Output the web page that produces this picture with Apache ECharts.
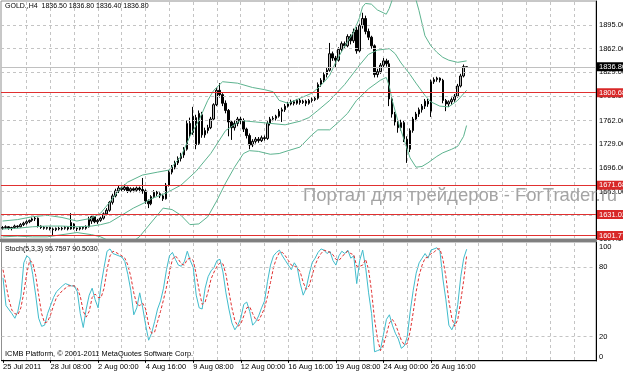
<!DOCTYPE html>
<html><head><meta charset="utf-8">
<script src="https://cdn.jsdelivr.net/npm/echarts@6/dist/echarts.min.js"></script>
<style>html,body{margin:0;padding:0;background:#fff}#c{width:623px;height:373px}</style>
</head><body><div id="c"></div>
<script>
// ---- DATA ----
// candles: [open, close, low, high], one H4 bar each, starting 25 Jul 2011
const ohlc = [
[1612,1613,1610,1615],[1613,1614,1611,1616],[1614,1612,1610,1615],[1612,1613,1609,1614],[1613,1615,1611,1617],
[1615,1614,1612,1616],[1614,1617,1613,1619],[1617,1619,1615,1621],[1619,1621,1617,1623],[1621,1623,1619,1624],
[1623,1625,1621,1627],[1625,1626,1622,1628],[1626,1615,1613,1627],[1615,1613,1611,1616],[1613,1612,1610,1615],
[1612,1613,1610,1614],[1613,1611,1609,1614],[1611,1610,1602,1613],[1610,1612,1608,1613],[1612,1611,1609,1614],
[1611,1612,1609,1614],[1612,1613,1610,1615],[1613,1611,1609,1614],[1611,1620,1610,1633],[1618,1612,1610,1619],
[1612,1611,1608,1613],[1611,1613,1609,1614],[1613,1612,1610,1615],[1612,1614,1610,1616],[1614,1624,1613,1628],
[1622,1628,1618,1631],[1628,1621,1619,1629],[1621,1623,1618,1625],[1623,1626,1621,1628],[1626,1632,1624,1634],
[1632,1637,1630,1640],[1637,1648,1635,1650],[1648,1657,1645,1660],[1657,1664,1655,1667],[1664,1668,1661,1671],
[1668,1666,1663,1670],[1666,1669,1664,1673],[1669,1664,1661,1670],[1664,1667,1662,1669],[1667,1665,1662,1669],
[1665,1668,1663,1670],[1668,1666,1662,1670],[1666,1664,1660,1682],[1664,1650,1646,1666],[1650,1646,1640,1652],
[1646,1656,1644,1658],[1656,1662,1654,1665],[1662,1660,1657,1664],[1660,1657,1654,1662],[1657,1653,1650,1660],
[1653,1672,1652,1675],[1672,1690,1670,1693],[1690,1697,1687,1700],[1697,1703,1694,1706],[1703,1709,1700,1712],
[1709,1714,1705,1717],[1714,1722,1710,1725],[1722,1758,1720,1762],[1758,1742,1738,1766],[1745,1768,1742,1781],
[1766,1728,1722,1770],[1730,1772,1728,1776],[1770,1742,1738,1774],[1742,1748,1738,1752],[1748,1752,1744,1756],
[1752,1764,1750,1767],[1764,1784,1762,1786],[1784,1804,1782,1807],[1804,1798,1794,1814],[1798,1786,1782,1800],
[1786,1776,1772,1790],[1776,1760,1740,1778],[1760,1752,1735,1762],[1752,1758,1748,1762],[1758,1764,1754,1767],
[1764,1762,1757,1767],[1762,1750,1746,1765],[1750,1741,1737,1752],[1741,1728,1722,1744],[1728,1733,1725,1736],
[1733,1736,1730,1739],[1736,1734,1731,1739],[1734,1738,1732,1741],[1738,1737,1734,1741],[1737,1758,1735,1761],
[1758,1764,1755,1767],[1764,1765,1761,1768],[1765,1768,1762,1770],[1768,1775,1766,1778],[1775,1777,1760,1780],
[1777,1782,1774,1785],[1782,1785,1780,1788],[1785,1788,1783,1791],[1788,1786,1783,1790],[1786,1790,1784,1792],
[1790,1787,1784,1792],[1787,1789,1785,1791],[1789,1786,1782,1791],[1786,1790,1784,1792],[1790,1791,1787,1794],
[1791,1793,1789,1796],[1793,1812,1791,1815],[1812,1818,1809,1821],[1818,1826,1815,1829],[1826,1832,1822,1835],
[1832,1855,1830,1870],[1855,1849,1845,1858],[1849,1846,1836,1852],[1846,1861,1844,1864],[1861,1869,1858,1872],
[1869,1866,1862,1872],[1866,1879,1864,1882],[1879,1873,1868,1882],[1873,1885,1870,1890],[1888,1859,1855,1892],
[1859,1894,1857,1897],[1894,1904,1890,1912],[1904,1886,1882,1908],[1886,1878,1874,1890],[1878,1866,1862,1880],
[1866,1826,1822,1868],[1826,1830,1822,1834],[1830,1839,1827,1842],[1839,1845,1836,1849],[1845,1841,1837,1848],
[1841,1792,1782,1846],[1792,1771,1766,1795],[1771,1760,1755,1774],[1760,1752,1745,1764],[1752,1759,1748,1763],
[1759,1736,1732,1762],[1736,1722,1703,1740],[1722,1748,1718,1751],[1748,1764,1745,1767],[1764,1771,1761,1774],
[1771,1777,1767,1780],[1777,1782,1773,1785],[1782,1789,1778,1792],[1789,1785,1781,1792],[1775,1816,1767,1819],
[1816,1819,1813,1822],[1819,1821,1816,1823],[1821,1818,1815,1822],[1818,1790,1786,1820],[1790,1785,1775,1792],
[1785,1788,1781,1790],[1788,1791,1784,1794],[1791,1796,1788,1799],[1796,1810,1794,1813],[1810,1824,1808,1827],
[1824,1837,1822,1840],[1836.5,1836.8,1836.4,1836.8]
];
// Bollinger bands: [barIndex, price]
const bbUpper = [[0,1622],[5,1624],[10,1628],[15,1630],[20,1627],[25,1622],[30,1626],[33,1633],[36,1648],[39,1664],[42,1676],[47,1686],[52,1690],[56,1693],[60,1712],[63,1740],[66,1762],[69,1790],[71,1804],[74,1816],[79,1814],[84,1808],[88,1805],[91,1802],[93,1790],[96,1786],[100,1793],[104,1800],[106,1807],[108,1815],[110,1825],[112,1843],[114,1858],[116,1872],[118,1885],[120,1905],[121,1920],[122,1925],[124,1924],[126,1916],[129,1910],[130,1918],[131,1930],[133,1945],[136,1955],[138,1945],[139,1930],[140,1915],[142,1880],[144,1866],[146,1857],[148,1850],[150,1846],[153,1843],[156,1845]];
const bbMiddle = [[0,1611],[5,1612],[10,1614],[15,1615],[20,1615],[25,1614],[30,1615],[33,1617],[36,1620],[40,1630],[44,1640],[48,1648],[50,1653],[55,1661],[60,1672],[65,1691],[70,1716],[75,1748],[80,1762],[85,1760],[90,1758],[95,1756],[100,1761],[103,1766],[106,1776],[110,1790],[115,1812],[120,1839],[123,1854],[126,1860],[130,1862],[132,1855],[134,1842],[137,1826],[139,1814],[142,1797],[144,1788],[147,1782],[150,1781],[153,1790],[156,1804]];
const bbLower = [[0,1600],[5,1601],[10,1600],[15,1600],[20,1603],[25,1606],[30,1603],[33,1600],[36,1594],[40,1590],[44,1594],[46,1600],[49,1615],[52,1630],[54,1640],[57,1638],[60,1630],[63,1617],[66,1618],[69,1628],[72,1650],[75,1675],[78,1697],[81,1716],[83,1720],[86,1719],[90,1715],[93,1716],[96,1720],[100,1725],[104,1742],[106,1749],[110,1749],[113,1760],[116,1772],[119,1790],[123,1806],[127,1818],[129,1822],[130,1810],[131,1790],[133,1760],[135,1735],[137,1710],[139,1697],[141,1698],[143,1703],[146,1712],[148,1717],[151,1722],[153,1726],[155,1740],[156,1755]];
// Stochastic(5,3,3): [barIndex, value]
const stochK = [[0,71],[1,47],[3,40],[4,36],[5,42],[6,55],[7,84],[8,90],[9,88],[10,74],[11,56],[12,36],[13,29],[14,30],[15,40],[16,47],[17,54],[18,59],[20,64],[21,66],[23,64],[24,64],[25,59],[26,40],[27,28],[28,44],[29,56],[30,62],[31,52],[32,45],[33,65],[34,80],[35,94],[36,96],[37,92],[39,90],[40,89],[41,85],[42,74],[43,60],[44,39],[45,45],[46,58],[47,45],[48,30],[49,17],[50,23],[51,33],[52,44],[53,51],[54,62],[55,78],[56,90],[57,93],[58,87],[59,82],[60,81],[61,85],[62,94],[63,86],[64,80],[65,56],[66,45],[67,44],[68,62],[69,72],[70,77],[71,80],[72,86],[73,87],[74,76],[75,58],[76,44],[77,32],[78,26],[79,30],[80,36],[81,48],[82,50],[83,42],[84,30],[85,33],[86,38],[87,45],[88,51],[89,68],[90,82],[91,90],[92,93],[93,95],[94,90],[95,86],[96,82],[97,78],[98,84],[99,80],[100,66],[101,56],[102,62],[103,74],[104,84],[105,88],[106,93],[107,96],[108,95],[109,92],[110,94],[111,86],[112,82],[113,90],[114,94],[115,92],[116,95],[117,88],[118,90],[119,66],[120,86],[121,95],[122,80],[123,58],[124,40],[125,7],[126,8],[127,9],[128,22],[129,35],[130,39],[131,30],[132,23],[133,18],[134,10],[135,12],[136,20],[137,42],[138,60],[139,75],[140,84],[141,88],[142,92],[143,88],[144,95],[145,96],[146,97],[147,94],[148,70],[149,52],[150,30],[151,26],[152,32],[153,48],[154,72],[155,88],[156,95.76]];
const stochD = [[0,78],[1,65],[2,52],[3,43],[4,40],[5,39],[6,45],[7,58],[8,75],[9,86],[10,84],[11,73],[12,56],[13,40],[14,32],[15,33],[16,39],[17,47],[18,54],[20,60],[22,64],[24,64],[25,62],[26,55],[27,42],[28,37],[29,42],[30,54],[31,57],[32,54],[33,54],[34,62],[35,78],[36,90],[37,94],[38,93],[40,90],[41,88],[42,82],[43,72],[44,58],[45,48],[46,47],[47,49],[48,44],[49,30],[50,23],[51,24],[52,33],[53,42],[54,52],[55,63],[56,76],[57,87],[58,90],[59,87],[60,83],[61,82],[62,87],[63,88],[64,86],[65,74],[66,60],[67,48],[68,50],[69,59],[70,70],[71,76],[72,81],[73,84],[74,83],[75,74],[76,59],[77,45],[78,34],[79,29],[80,31],[81,38],[82,45],[83,46],[84,40],[85,35],[86,34],[87,39],[88,45],[89,55],[90,67],[91,80],[92,88],[93,93],[94,93],[95,90],[96,86],[97,82],[98,81],[99,80],[100,76],[101,67],[102,61],[103,64],[104,73],[105,82],[106,88],[107,92],[108,95],[109,94],[110,93],[111,91],[112,87],[113,86],[114,89],[115,92],[116,94],[117,92],[118,91],[119,81],[120,81],[121,82],[122,87],[123,78],[124,59],[125,35],[126,18],[127,8],[128,13],[129,22],[130,32],[131,35],[132,31],[133,24],[134,17],[135,13],[136,14],[137,25],[138,41],[139,59],[140,73],[141,82],[142,88],[143,89],[144,92],[145,93],[146,96],[147,96],[148,87],[149,72],[150,51],[151,36],[152,29],[153,35],[154,51],[155,69],[156,90.5]];
// axis labels
const timeLabels = [[0,'25 Jul 2011'],[16,'28 Jul 08:00'],[32,'2 Aug 00:00'],[48,'4 Aug 16:00'],[64,'9 Aug 08:00'],[80,'12 Aug 00:00'],[96,'16 Aug 16:00'],[112,'19 Aug 08:00'],[128,'24 Aug 00:00'],[144,'26 Aug 16:00']];
const priceTicks = [1895,1862,1829,1796,1762,1729,1696,1663,1630,1597];
const levelLines = [1800.68,1671.68,1631.02,1601.77];
const lastPrice = 1836.80;
const stochTicks = [100,80,20,0];
const stochLevels = [80,20];
const nBars = 200;
const vGridStep = 8;
const priceRange = [1597, 1928.4];
const stochRange = [-1, 102];

// ---- CHART ----
const FONT = '"Liberation Sans", Arial, sans-serif';
const FS = 7.5;
const chart = echarts.init(document.getElementById('c'), null, {renderer:'canvas'});
const cats = Array.from({length:nBars}, (_, i) => i);
const labelMap = Object.fromEntries(timeLabels);
const gridLine = () => ({color:'#c4c4c4', type:[3,3], width:1});
const tickLabel = (txt) => ({show:true, position:'end', distance:3, formatter:txt, color:'#000', fontSize:FS, fontFamily:FONT});

const PL = 1, PW = 595;
const panels = [{top:1, height:238}, {top:242, height:119}];

const mainGridMarks = priceTicks.map(v => ({yAxis:v, lineStyle:gridLine(), label:tickLabel(v.toFixed(2))}));
const levelMarks = [
  {yAxis:lastPrice, lineStyle:{color:'#c0c0c0', type:'solid', width:1},
   label:{show:true, position:'end', distance:1, formatter:lastPrice.toFixed(2), color:'#fff', backgroundColor:'#000', padding:[1,3,0,2], fontSize:FS, fontFamily:FONT}},
  ...levelLines.map(v => ({yAxis:v, lineStyle:{color:'#e03030', type:'solid', width:1},
   label:{show:true, position:'end', distance:1, formatter:v.toFixed(2), color:'#fff', backgroundColor:'#d82828', padding:[1,3,0,2], fontSize:FS, fontFamily:FONT}}))
];
const stochMarks = stochTicks.map(v => ({yAxis:v,
     lineStyle: stochLevels.includes(v) ? gridLine() : {color:'rgba(0,0,0,0)'},
     label:Object.assign(tickLabel(String(v)), {offset:[0, v===100?3:(v===0?-3:0)]})}));

// vertical dotted grid lines every 8 bars (layout only), at bar-slot centres
const vLines = [];
for (let i = vGridStep; i < nBars; i += vGridStep) {
  const x = Math.round(PL + (i + 0.5) * PW / nBars) + 0.5;
  panels.forEach(p => vLines.push({type:'line', z:1, silent:true,
    shape:{x1:x, y1:p.top + 1, x2:x, y2:p.top + p.height},
    style:{stroke:'#c4c4c4', lineWidth:1, lineDash:[3,3]}}));
}

const option = {
  animation:false,
  backgroundColor:'#fff',
  grid:[
    {left:PL, top:panels[0].top, width:PW, height:panels[0].height, show:true, borderColor:'#909090', borderWidth:1, backgroundColor:'transparent'},
    {left:PL, top:panels[1].top, width:PW, height:panels[1].height, show:true, borderColor:'#909090', borderWidth:1, backgroundColor:'transparent'}
  ],
  xAxis:[
    {type:'category', gridIndex:0, data:cats, boundaryGap:true, axisLine:{show:false}, axisTick:{show:false}, axisLabel:{show:false}, splitLine:{show:false}},
    {type:'category', gridIndex:1, data:cats, boundaryGap:true,
     axisLine:{show:true, lineStyle:{color:'#000'}},
     axisTick:{show:true, interval:(i)=> (i in labelMap), alignWithLabel:true, length:3, lineStyle:{color:'#000'}},
     axisLabel:{interval:(i)=> (i in labelMap), formatter:(v, i)=> labelMap[i] || '', align:'left', margin:2, fontSize:FS, color:'#000', fontFamily:FONT},
     splitLine:{show:false}}
  ],
  yAxis:[
    {type:'value', gridIndex:0, min:priceRange[0], max:priceRange[1], position:'right', axisLine:{show:true, lineStyle:{color:'#000'}}, axisTick:{show:false}, axisLabel:{show:false}, splitLine:{show:false}},
    {type:'value', gridIndex:1, min:stochRange[0], max:stochRange[1], position:'right', axisLine:{show:true, lineStyle:{color:'#000'}}, axisTick:{show:false}, axisLabel:{show:false}, splitLine:{show:false}}
  ],
  series:[
    {type:'line', xAxisIndex:0, yAxisIndex:0, data:[], z:1, silent:true,
     markLine:{silent:true, symbol:['none','none'], animation:false, data:mainGridMarks}},
    {type:'candlestick', xAxisIndex:0, yAxisIndex:0, data:ohlc, barWidth:2, z:3,
     itemStyle:{color:'#b8b8b8', color0:'#000', borderColor:'#000', borderColor0:'#000', borderWidth:1}},
    {type:'line', xAxisIndex:0, yAxisIndex:0, data:bbUpper, showSymbol:false, z:4, lineStyle:{color:'#5db38f', width:1}},
    {type:'line', xAxisIndex:0, yAxisIndex:0, data:bbMiddle, showSymbol:false, z:4, lineStyle:{color:'#5db38f', width:1}},
    {type:'line', xAxisIndex:0, yAxisIndex:0, data:bbLower, showSymbol:false, z:4, lineStyle:{color:'#5db38f', width:1}},
    {type:'line', xAxisIndex:0, yAxisIndex:0, data:[], z:5, silent:true,
     markLine:{silent:true, symbol:['none','none'], animation:false, data:levelMarks}},
    {type:'line', xAxisIndex:1, yAxisIndex:1, data:[], z:1, silent:true,
     markLine:{silent:true, symbol:['none','none'], animation:false, data:stochMarks}},
    {type:'line', xAxisIndex:1, yAxisIndex:1, data:stochK, showSymbol:false, z:4, lineStyle:{color:'#40bccc', width:1}},
    {type:'line', xAxisIndex:1, yAxisIndex:1, data:stochD, showSymbol:false, z:4, lineStyle:{color:'#e03030', width:1, type:[3,2]}}
  ],
  graphic:[
    ...vLines,
    {type:'rect', z:10, shape:{x:0, y:239, width:597, height:3}, style:{fill:'#808080'}},
    {type:'text', z:10, left:5, top:3, style:{text:'GOLD.,H4  1836.50 1836.80 1836.40 1836.80', fill:'#000', font:'7px '+FONT}},
    {type:'text', z:10, left:5, top:246, style:{text:'Stoch(5,3,3) 95.7597 90.5030', fill:'#000', font:'7px '+FONT}},
    {type:'text', z:10, left:5, top:350, style:{text:'ICMB Platform, © 2001-2011 MetaQuotes Software Corp.', fill:'#000', font:'7.4px '+FONT}},
    {type:'text', z:20, left:303, top:186, style:{text:'Портал для трейдеров - ForTrader.ru', fill:'#a4a4a4', font:'18.5px '+FONT}}
  ]
};
chart.setOption(option);
</script></body></html>
